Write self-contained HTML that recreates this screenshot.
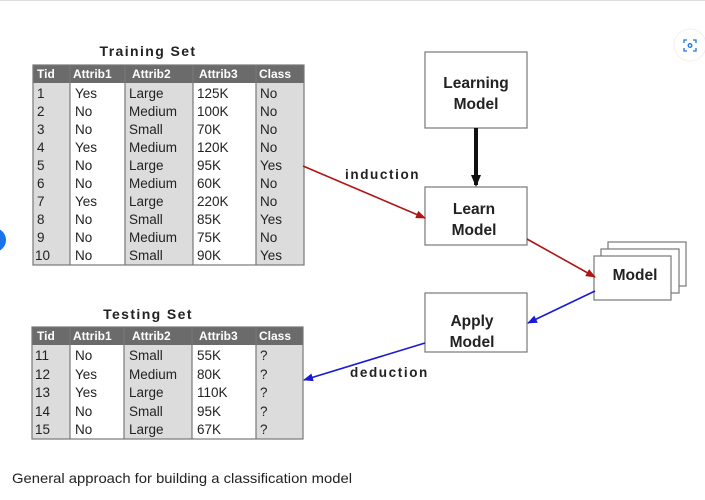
<!DOCTYPE html>
<html><head><meta charset="utf-8"><style>
html,body{margin:0;padding:0;background:#fff;width:705px;height:500px;overflow:hidden}
svg{display:block}
</style></head><body>
<svg width="705" height="500" xmlns="http://www.w3.org/2000/svg" font-family="Liberation Sans, Arial, sans-serif">
<rect x="0" y="0" width="705" height="1" fill="#ddd"/>
<defs>
<marker id="ar" markerWidth="10" markerHeight="8" refX="9" refY="4" orient="auto" markerUnits="userSpaceOnUse"><path d="M0,0 L10,4 L0,8 z" fill="#b01515"/></marker>
<marker id="ab" markerWidth="10" markerHeight="8" refX="9" refY="4" orient="auto" markerUnits="userSpaceOnUse"><path d="M0,0 L10,4 L0,8 z" fill="#1a1ad0"/></marker>
<marker id="ak" markerWidth="12" markerHeight="10" refX="10" refY="5" orient="auto" markerUnits="userSpaceOnUse"><path d="M0,0 L12,5 L0,10 z" fill="#111"/></marker>
</defs>

<!-- Training table -->
<text x="148" y="56" font-size="14" font-weight="bold" text-anchor="middle" fill="#222" letter-spacing="1.4">Training Set</text>
<g>
<rect x="33" y="83" width="37" height="182" fill="#dcdcdc"/>
<rect x="70" y="83" width="55" height="182" fill="#fff"/>
<rect x="125" y="83" width="68" height="182" fill="#dcdcdc"/>
<rect x="193" y="83" width="63" height="182" fill="#fff"/>
<rect x="256" y="83" width="48" height="182" fill="#dcdcdc"/>
<rect x="33" y="65" width="271" height="18" fill="#6b6b6b"/>
<g stroke="#777" stroke-width="1.2"><line x1="70" y1="65" x2="70" y2="265"/><line x1="125" y1="65" x2="125" y2="265"/><line x1="193" y1="65" x2="193" y2="265"/><line x1="256" y1="65" x2="256" y2="265"/></g>
<rect x="33" y="65" width="271" height="200" fill="none" stroke="#777" stroke-width="1.2"/>
<g font-size="12" font-weight="bold" fill="#fff"><text x="37" y="78">Tid</text><text x="73" y="78">Attrib1</text><text x="132" y="78">Attrib2</text><text x="199" y="78">Attrib3</text><text x="259" y="78">Class</text></g>
<g font-size="13.5" fill="#222">
<text x="37" y="98">1</text><text x="75" y="98">Yes</text><text x="129" y="98">Large</text><text x="197" y="98">125K</text><text x="260" y="98">No</text>
<text x="37" y="116">2</text><text x="75" y="116">No</text><text x="129" y="116">Medium</text><text x="197" y="116">100K</text><text x="260" y="116">No</text>
<text x="37" y="134">3</text><text x="75" y="134">No</text><text x="129" y="134">Small</text><text x="197" y="134">70K</text><text x="260" y="134">No</text>
<text x="37" y="152">4</text><text x="75" y="152">Yes</text><text x="129" y="152">Medium</text><text x="197" y="152">120K</text><text x="260" y="152">No</text>
<text x="37" y="170">5</text><text x="75" y="170">No</text><text x="129" y="170">Large</text><text x="197" y="170">95K</text><text x="260" y="170">Yes</text>
<text x="37" y="188">6</text><text x="75" y="188">No</text><text x="129" y="188">Medium</text><text x="197" y="188">60K</text><text x="260" y="188">No</text>
<text x="37" y="206">7</text><text x="75" y="206">Yes</text><text x="129" y="206">Large</text><text x="197" y="206">220K</text><text x="260" y="206">No</text>
<text x="37" y="224">8</text><text x="75" y="224">No</text><text x="129" y="224">Small</text><text x="197" y="224">85K</text><text x="260" y="224">Yes</text>
<text x="37" y="242">9</text><text x="75" y="242">No</text><text x="129" y="242">Medium</text><text x="197" y="242">75K</text><text x="260" y="242">No</text>
<text x="35" y="260">10</text><text x="75" y="260">No</text><text x="129" y="260">Small</text><text x="197" y="260">90K</text><text x="260" y="260">Yes</text>
</g></g>

<!-- Testing table -->
<text x="148" y="319" font-size="14" font-weight="bold" text-anchor="middle" fill="#222" letter-spacing="1.4">Testing Set</text>
<g>
<rect x="32" y="345" width="38" height="94" fill="#dcdcdc"/>
<rect x="70" y="345" width="54" height="94" fill="#fff"/>
<rect x="124" y="345" width="68" height="94" fill="#dcdcdc"/>
<rect x="192" y="345" width="64" height="94" fill="#fff"/>
<rect x="256" y="345" width="47" height="94" fill="#dcdcdc"/>
<rect x="32" y="327" width="271" height="18" fill="#6b6b6b"/>
<g stroke="#777" stroke-width="1.2"><line x1="70" y1="327" x2="70" y2="439"/><line x1="124" y1="327" x2="124" y2="439"/><line x1="192" y1="327" x2="192" y2="439"/><line x1="256" y1="327" x2="256" y2="439"/></g>
<rect x="32" y="327" width="271" height="112" fill="none" stroke="#777" stroke-width="1.2"/>
<g font-size="12" font-weight="bold" fill="#fff"><text x="37" y="340">Tid</text><text x="73" y="340">Attrib1</text><text x="132" y="340">Attrib2</text><text x="199" y="340">Attrib3</text><text x="259" y="340">Class</text></g>
<g font-size="13.5" fill="#222">
<text x="35" y="360">11</text><text x="75" y="360">No</text><text x="129" y="360">Small</text><text x="197" y="360">55K</text><text x="260" y="360">?</text>
<text x="35" y="379">12</text><text x="75" y="379">Yes</text><text x="129" y="379">Medium</text><text x="197" y="379">80K</text><text x="260" y="379">?</text>
<text x="35" y="397">13</text><text x="75" y="397">Yes</text><text x="129" y="397">Large</text><text x="197" y="397">110K</text><text x="260" y="397">?</text>
<text x="35" y="416">14</text><text x="75" y="416">No</text><text x="129" y="416">Small</text><text x="197" y="416">95K</text><text x="260" y="416">?</text>
<text x="35" y="434">15</text><text x="75" y="434">No</text><text x="129" y="434">Large</text><text x="197" y="434">67K</text><text x="260" y="434">?</text>
</g></g>

<!-- Boxes -->
<g fill="#fff" stroke="#777" stroke-width="1.2">
<rect x="425" y="52" width="102" height="76"/>
<rect x="425" y="187" width="102" height="58"/>
<rect x="425" y="293" width="102" height="59"/>
<rect x="608" y="242" width="78" height="44"/>
<rect x="601" y="249" width="78" height="44"/>
<rect x="594" y="256" width="77" height="44"/>
</g>
<g font-size="15.5" font-weight="bold" fill="#222" text-anchor="middle">
<text x="476" y="88">Learning</text><text x="476" y="109">Model</text>
<text x="474" y="214">Learn</text><text x="474" y="235">Model</text>
<text x="472" y="326">Apply</text><text x="472" y="347">Model</text>
<text x="635" y="280">Model</text>
</g>

<!-- Arrows -->
<line x1="476" y1="128" x2="476" y2="185" stroke="#111" stroke-width="4" marker-end="url(#ak)"/>
<line x1="303" y1="166" x2="425" y2="218" stroke="#b01515" stroke-width="1.6" marker-end="url(#ar)"/>
<line x1="527" y1="239" x2="595" y2="277" stroke="#b01515" stroke-width="1.6" marker-end="url(#ar)"/>
<line x1="595" y1="291" x2="528" y2="323" stroke="#1a1ad0" stroke-width="1.6" marker-end="url(#ab)"/>
<line x1="425" y1="343" x2="304" y2="380" stroke="#1a1ad0" stroke-width="1.6" marker-end="url(#ab)"/>
<g font-size="13.5" font-weight="bold" fill="#222" letter-spacing="1.6">
<text x="345" y="179">induction</text>
<text x="350" y="377">deduction</text>
</g>

<!-- Caption -->
<text x="12" y="483" font-size="14" fill="#222" textLength="340" lengthAdjust="spacingAndGlyphs">General approach for building a classification model</text>

<!-- UI bits -->
<circle cx="-6" cy="240" r="12" fill="#1a73e8"/>
<circle cx="690" cy="45" r="16" fill="#fff" stroke="#f0f0f0"/>
<g fill="none" stroke="#1a73e8" stroke-width="1.3">
<path d="M684,43 v-3 h3 M693,40 h3 v3 M696,48 v3 h-3 M687,51 h-3 v-3"/>
<circle cx="690" cy="45.5" r="1.8"/>
</g>
</svg>
</body></html>
